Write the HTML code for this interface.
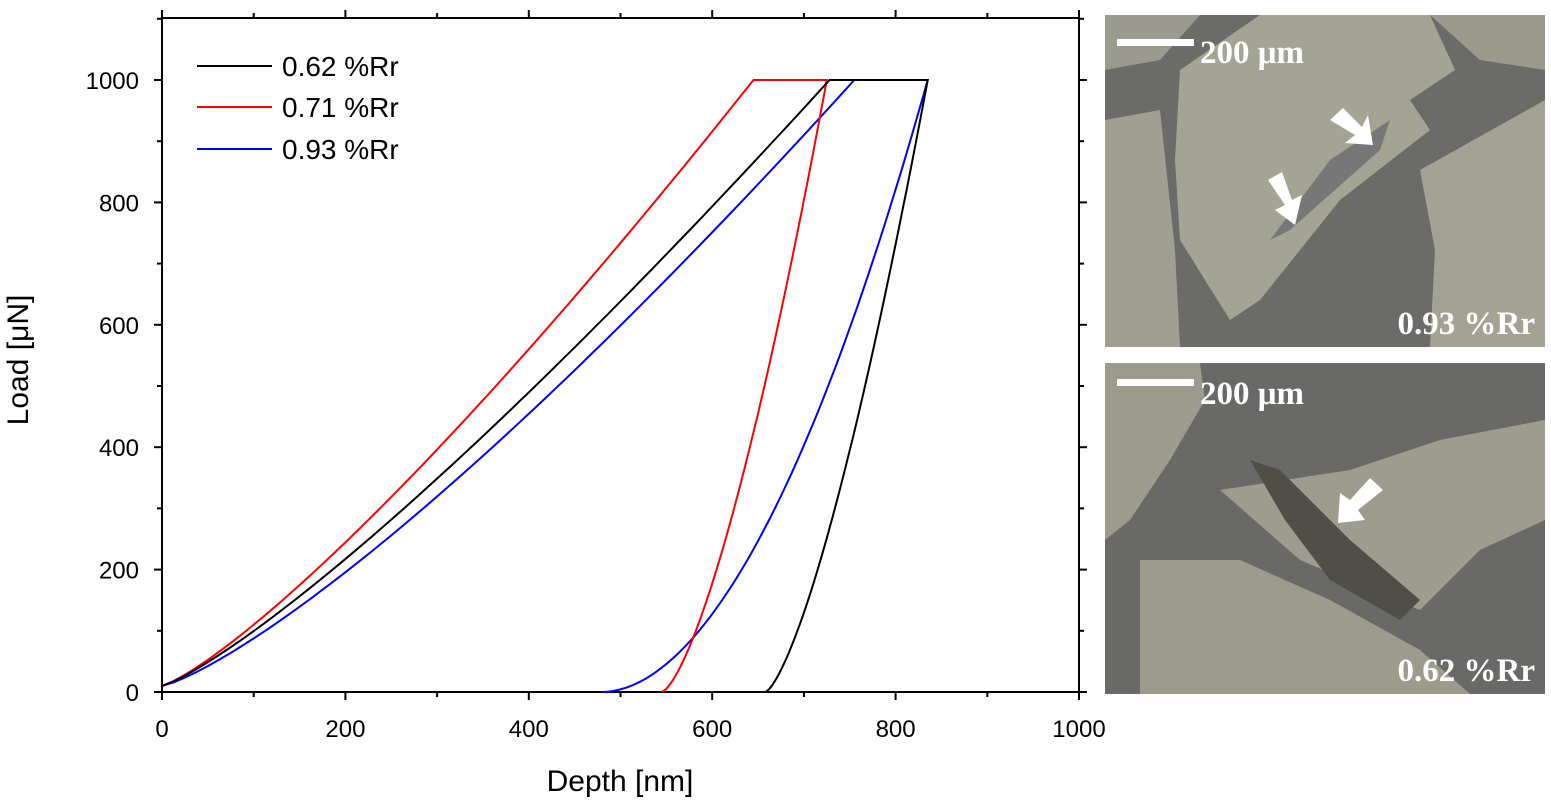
<!DOCTYPE html>
<html><head><meta charset="utf-8"><style>
html,body{margin:0;padding:0;background:#fff;}
svg{display:block;font-family:"Liberation Sans",Arial,sans-serif;}
</style></head><body>
<svg id="s" width="1551" height="801" viewBox="0 0 1551 801" xmlns="http://www.w3.org/2000/svg">
<defs>
<clipPath id="c1"><rect x="1105" y="15" width="440" height="332"/></clipPath>
<clipPath id="c2"><rect x="1105" y="363" width="440" height="331"/></clipPath>
</defs>
<g clip-path="url(#c1)">
<rect x="1105" y="15" width="440" height="332" fill="#6b6b69"/>
<polygon points="1105,15 1200,15 1160,60 1105,70" fill="#9a9a8e"/>
<polygon points="1180,70 1260,15 1430,15 1455,70 1410,100 1430,130 1340,200 1260,300 1230,320 1180,240 1175,160" fill="#a4a495"/>
<polygon points="1105,120 1160,110 1175,250 1180,347 1105,347" fill="#a09f92"/>
<polygon points="1420,170 1545,100 1545,347 1430,347 1435,250" fill="#a3a294"/>
<polygon points="1430,15 1545,15 1545,70 1480,60" fill="#9b9a8c"/>
<polygon points="1330,160 1390,120 1380,150 1290,230 1270,240" fill="#777"/>
<rect x="1117" y="39" width="77" height="7" fill="#fff"/>
<text x="1200" y="63" font-family="Liberation Serif,serif" font-weight="bold" font-size="33" fill="#fff">200  μm</text>
<text x="1535" y="334" text-anchor="end" font-family="Liberation Serif,serif" font-weight="bold" font-size="33" fill="#fff">0.93 %Rr</text>
<polygon points="1330,120 1343,108 1362,127 1368,115 1373,145 1345,143 1355,135" fill="#fff"/>
<polygon points="1268,180 1282,172 1292,200 1302,195 1295,225 1275,210 1285,205" fill="#fff"/>
</g>
<g clip-path="url(#c2)">
<rect x="1105" y="363" width="440" height="331" fill="#696967"/>
<polygon points="1105,363 1200,363 1205,400 1170,460 1130,520 1105,540" fill="#9c9b8e"/>
<polygon points="1220,490 1350,470 1440,440 1545,420 1545,520 1480,550 1420,610 1370,590 1300,560" fill="#9d9c8e"/>
<polygon points="1140,560 1240,560 1330,600 1420,650 1470,694 1140,694" fill="#9c9b8d"/>
<polygon points="1250,460 1280,470 1350,540 1420,600 1400,620 1330,580 1285,520" fill="#4f4f48"/>
<rect x="1117" y="379" width="77" height="7" fill="#fff"/>
<text x="1200" y="404" font-family="Liberation Serif,serif" font-weight="bold" font-size="33" fill="#fff">200  μm</text>
<text x="1535" y="681" text-anchor="end" font-family="Liberation Serif,serif" font-weight="bold" font-size="33" fill="#fff">0.62 %Rr</text>
<polygon points="1383,490 1370,478 1350,500 1340,493 1338,523 1365,520 1358,510" fill="#fff"/>
</g>
<g id="axes" stroke="#000" stroke-width="2" fill="none"></g>
<g id="lbl" font-size="24" fill="#000"></g>
<g id="curves" fill="none" stroke-width="2"></g>
<text x="620" y="791" text-anchor="middle" font-size="30">Depth [nm]</text>
<text transform="translate(28,360) rotate(-90)" text-anchor="middle" font-size="30">Load [μN]</text>
<g font-size="28">
<line x1="197" y1="66" x2="272" y2="66" stroke="#000" stroke-width="2"/>
<text x="282" y="76">0.62 %Rr</text>
<line x1="197" y1="107" x2="272" y2="107" stroke="#f00" stroke-width="2"/>
<text x="282" y="117">0.71 %Rr</text>
<line x1="197" y1="149" x2="272" y2="149" stroke="#00f" stroke-width="2"/>
<text x="282" y="159">0.93 %Rr</text>
</g>
</svg>
<script>
var NS="http://www.w3.org/2000/svg";
function X(h){return 162+h*0.917;}
function Y(p){return 692-p*0.612;}
function el(t,a,parent){var e=document.createElementNS(NS,t);for(var k in a)e.setAttribute(k,a[k]);document.getElementById(parent).appendChild(e);return e;}
el("rect",{x:162,y:18,width:917,height:674},"axes");
for(var i=0;i<=10;i++){var x=X(i*100),L=(i%2==0)?8:5;
el("line",{x1:x,y1:692,x2:x,y2:692+L},"axes");el("line",{x1:x,y1:18,x2:x,y2:18-L},"axes");
if(i%2==0){var t=el("text",{x:x,y:737,"text-anchor":"middle"},"lbl");t.textContent=i*100;}}
for(var j=0;j<=11;j++){var y=Y(j*100),L=(j%2==0)?8:5;if(y<18)continue;
el("line",{x1:162,y1:y,x2:162-L,y2:y},"axes");el("line",{x1:1079,y1:y,x2:1079+L,y2:y},"axes");
if(j%2==0){var t=el("text",{x:139,y:y+9,"text-anchor":"end"},"lbl");t.textContent=j*100;}}
function curve(col,hl,n,hm,hf,m){var d=[];
for(var k=0;k<=60;k++){var h=hl*k/60;var p=10+990*Math.pow(h/hl,n);d.push(X(h).toFixed(1)+","+Y(p).toFixed(1));}
d.push(X(hm).toFixed(1)+","+Y(1000).toFixed(1));
for(var k=60;k>=0;k--){var f=k/60;var h=hf+(hm-hf)*f;var p=1000*Math.pow(f,m);d.push(X(h).toFixed(1)+","+Y(p).toFixed(1));}
el("polyline",{points:d.join(" "),stroke:col},"curves");}
curve("#00f",755,1.26,835,480,1.9);
curve("#f00",645,1.23,725,545,1.46);
curve("#000",728,1.21,835,658,1.42);
</script>
</body></html>
